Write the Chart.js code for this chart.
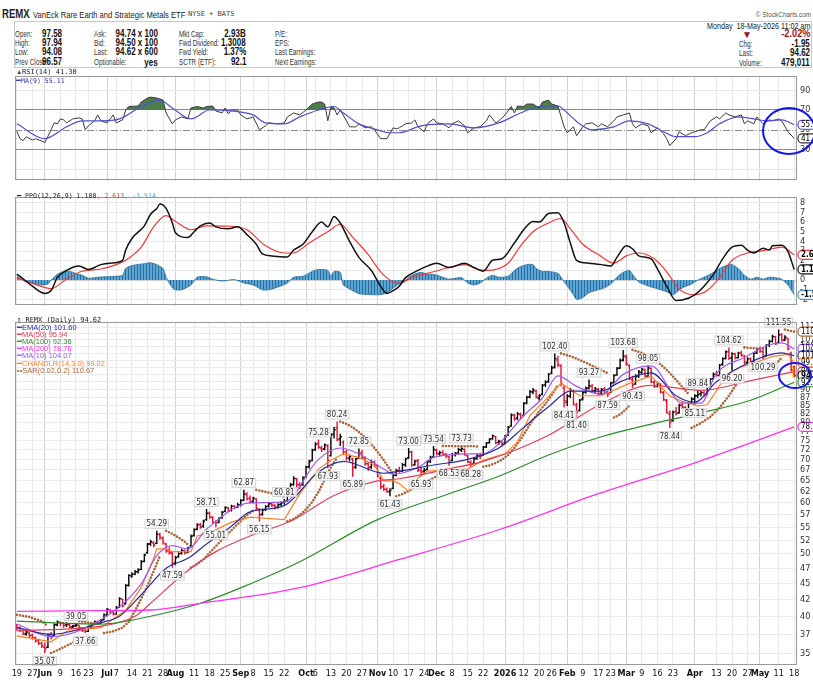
<!DOCTYPE html>
<html><head><meta charset="utf-8">
<script src="https://cdn.jsdelivr.net/npm/chart.js@4.4.1/dist/chart.umd.min.js"></script>
<style>
body{margin:0;width:813px;height:680px;overflow:hidden;background:#fff;position:relative;font-family:'Liberation Sans',Arial,sans-serif;color:#222}
.n{position:absolute;white-space:nowrap;line-height:1;transform:scaleX(.8);transform-origin:0 0}
.nr{transform-origin:100% 0}
.l{font-size:9px;color:#333;transform:scaleX(.7)}
.v{font-size:10px;font-weight:bold;color:#111}
canvas{position:absolute;left:0}
.lg{position:absolute;white-space:nowrap;line-height:1;font-size:7.5px}
.mono{font-family:'DejaVu Sans Mono',monospace}
.ell{position:absolute;border:2px solid #1717e6;border-radius:50%;box-sizing:border-box}
</style></head><body>
<div class="n" style="left:2px;top:8px;font-size:12px;font-weight:bold">REMX</div>
<div class="n" style="left:33px;top:10px;font-size:9.5px">VanEck Rare Earth and Strategic Metals ETF</div>
<div class="n mono" style="left:188px;top:11px;font-size:7px;color:#444;transform:none">NYSE + BATS</div>
<div class="n nr" style="right:2px;top:11px;font-size:8px;color:#555">© StockCharts.com</div>
<div style="position:absolute;left:14px;top:21px;width:798px;height:47px;border:1px solid #c8c8c8;box-sizing:border-box"></div>
<div class="n nr" style="right:3px;top:22px;font-size:9px">Monday&nbsp; 18-May-2026 11:02 am</div>

<div class="n l" style="left:15px;top:30px">Open:</div><div class="n nr v" style="right:751px;top:29px">97.58</div>
<div class="n l" style="left:15px;top:39px">High:</div><div class="n nr v" style="right:751px;top:38px">97.94</div>
<div class="n l" style="left:15px;top:48px">Low:</div><div class="n nr v" style="right:751px;top:47px">94.08</div>
<div class="n l" style="left:15px;top:58px">Prev Close:</div><div class="n nr v" style="right:751px;top:57px">96.57</div>

<div class="n l" style="left:94px;top:30px">Ask:</div><div class="n nr v" style="right:655px;top:29px">94.74 x 100</div>
<div class="n l" style="left:94px;top:39px">Bid:</div><div class="n nr v" style="right:655px;top:38px">94.50 x 100</div>
<div class="n l" style="left:94px;top:48px">Last:</div><div class="n nr v" style="right:655px;top:47px">94.62 x 600</div>
<div class="n l" style="left:94px;top:58px">Optionable:</div><div class="n nr v" style="right:655px;top:58px">yes</div>

<div class="n l" style="left:179px;top:30px">Mkt Cap:</div><div class="n nr v" style="right:567px;top:29px">2.93B</div>
<div class="n l" style="left:179px;top:39px">Fwd Dividend:</div><div class="n nr v" style="right:567px;top:38px">1.3008</div>
<div class="n l" style="left:179px;top:48px">Fwd Yield:</div><div class="n nr v" style="right:567px;top:47px">1.37%</div>
<div class="n l" style="left:179px;top:58px">SCTR (ETF):</div><div class="n nr v" style="right:567px;top:57px">92.1</div>

<div class="n l" style="left:275px;top:30px">P/E:</div>
<div class="n l" style="left:275px;top:39px">EPS:</div>
<div class="n l" style="left:275px;top:48px">Last Earnings:</div>
<div class="n l" style="left:275px;top:58px">Next Earnings:</div>

<div class="n" style="left:742px;top:30px;font-size:10px;color:#9b1426;transform:none">&#9660;</div>
<div class="n nr" style="right:3px;top:28px;font-size:11.5px;font-weight:bold;color:#9b1426">-2.02%</div>
<div class="n l" style="left:739px;top:40px">Chg:</div><div class="n nr v" style="right:3px;top:39px">-1.95</div>
<div class="n l" style="left:739px;top:49px">Last:</div><div class="n nr v" style="right:3px;top:48px">94.62</div>
<div class="n l" style="left:739px;top:59px">Volume:</div><div class="n nr v" style="right:3px;top:58px">479,011</div>

<canvas id="c1" width="813" height="121" style="top:68px;width:813px;height:121px"></canvas>
<canvas id="c2" width="813" height="125" style="top:189px;width:813px;height:125px"></canvas>
<canvas id="c3" width="813" height="366" style="top:314px;width:813px;height:366px"></canvas>

<div class="lg" style="left:16px;top:69px;color:#2d6b2d;font-size:6.5px">&#9650;</div>
<div class="lg mono" style="left:22px;top:69px;color:#222;font-size:7px">RSI(14) 41.30</div>
<div class="lg" style="left:16px;top:77px;color:#3434b0">&#9473;<span class="mono" style="font-size:6.6px">MA(9) 55.11</span></div>
<div class="lg mono" style="left:17px;top:193px;color:#222;font-size:6.6px"><span style="font-family:'Liberation Sans'">&#9473;</span> PPO(12,26,9) 1.100<span style="color:#e83a3a">, 2.613</span><span style="color:#4aa3df">, -1.514</span></div>

<div class="lg mono" style="left:17px;top:317px;color:#222;font-size:7px">&#9647; REMX (Daily) 94.62</div>
<div class="lg" style="left:17px;top:324px;color:#2b2b9c">&#9473;EMA(20) 101.60</div>
<div class="lg" style="left:17px;top:331px;color:#e0405a">&#9473;MA(50) 95.94</div>
<div class="lg" style="left:17px;top:338px;color:#2e8b2e">&#9473;MA(100) 92.36</div>
<div class="lg" style="left:17px;top:345px;color:#ff33ee">&#9473;MA(200) 78.76</div>
<div class="lg" style="left:17px;top:352px;color:#9a5af0">&#9473;MA(10) 104.07</div>
<div class="lg" style="left:17px;top:360px;color:#ff7f27">&#9473;CHANDLR(14,3.0) 99.02</div>
<div class="lg" style="left:17px;top:367px;color:#a8673c">&#9642;&#8226;SAR(0.02,0.2) 110.67</div>

<div class="ell" style="left:762px;top:107px;width:54px;height:48px"></div>
<div class="ell" style="left:778px;top:362px;width:34px;height:27px"></div>

<script>
const F = "'DejaVu Sans Condensed','Liberation Sans',Arial,sans-serif";

// x axis labels (trading-day index, text)
const tickIdx = [0,5,9,14,19,23,29,32,37,42,47,51,57,62,67,72,76,81,86,93,96,101,106,111,116,121,126,131,135,140,145,150,157,163,168,172,177,182,187,191,196,201,206,211,218,225,230,235,239,245,250];
const tickTxt = ['19','27','Jun','9','16','23','Jul','7','14','21','28','Aug','11','18','25','Sep','8','15','22','Oct','6','13','20','27','Nov','10','17','24','Dec','8','15','22','2026','12','20','26','Feb','9','17','23','Mar','9','16','23','Apr','13','20','27','May','11','18'];

// daily OHLC, May 19 2025 .. May 18 2026
const open = [38.6,38.4,38.0,37.5,37.6,37.4,37.0,36.7,36.3,35.8,
35.8,37.5,37.3,38.8,39.1,39.0,38.8,38.8,38.5,38.7,
38.7,38.3,38.0,37.9,38.6,38.9,39.2,39.0,39.5,40.2,
40.9,40.6,40.3,41.3,42.5,41.8,44.7,46.2,46.5,46.9,
47.3,48.7,50.2,51.8,52.0,51.9,53.6,52.9,51.8,50.6,
50.1,48.4,49.5,50.1,50.5,50.3,51.4,53.4,54.6,55.5,
55.2,56.5,57.8,57.0,55.9,56.0,56.9,58.2,58.9,58.4,
59.3,59.1,59.5,60.6,61.8,61.0,60.3,60.8,58.5,57.6,
58.6,59.3,59.8,59.4,59.1,59.7,60.1,60.4,62.4,64.1,
65.4,64.0,64.0,65.8,68.3,69.8,72.6,74.2,73.0,72.8,
73.5,71.0,76.8,78.5,75.5,74.5,72.0,70.4,70.2,68.2,
70.5,71.8,70.4,69.0,68.2,69.4,68.5,65.5,63.6,63.0,
62.4,63.2,66.3,67.4,67.3,68.7,70.5,72.0,68.8,69.8,
67.4,67.2,67.6,69.6,70.7,72.4,71.5,71.8,71.3,70.8,
69.8,71.3,71.7,72.5,72.6,71.0,69.3,69.1,70.3,71.0,
71.2,73.3,74.4,75.5,76.0,74.5,74.7,74.3,76.5,79.0,
82.0,81.2,82.3,82.0,85.8,87.6,89.2,89.5,87.2,88.5,
91.5,92.6,95.5,97.5,100.0,98.0,90.5,86.0,88.0,89.5,
85.0,83.5,87.0,89.2,90.5,91.0,89.6,90.0,88.8,90.2,
88.8,89.0,92.3,94.8,97.2,100.0,101.0,98.0,93.2,91.8,
94.5,95.6,96.5,94.3,97.0,92.3,91.2,91.8,89.0,86.5,
82.5,80.5,83.2,82.8,85.2,84.3,83.8,85.8,87.0,88.0,
88.6,89.0,88.5,91.3,93.5,95.2,94.6,98.5,100.6,103.0,
100.8,102.2,100.8,102.6,101.5,99.2,100.5,99.4,102.5,104.0,
103.0,101.5,105.5,107.0,108.6,106.5,109.4,107.5,108.0,102.5,
97.58];
const high = [38.9,38.6,38.2,38.0,37.9,37.6,37.2,36.9,36.5,36.4,
37.6,37.8,39.0,39.4,39.3,39.2,39.1,38.9,38.8,39.05,
38.8,38.5,38.2,38.7,39.1,39.4,39.4,39.6,40.4,41.2,
41.1,40.8,41.5,42.8,42.6,44.9,46.5,46.8,47.2,47.5,
48.9,50.0,52.0,52.6,52.3,54.29,53.9,53.2,52.0,51.2,
50.4,49.6,50.3,50.9,50.8,51.3,53.6,54.8,55.8,55.9,
56.5,58.71,58.2,57.2,56.4,57.0,58.3,59.3,59.1,59.6,
59.5,60.0,60.8,62.87,62.3,61.6,61.3,61.0,58.9,58.8,
59.5,60.0,60.2,59.8,59.9,60.3,60.81,62.6,64.5,66.0,
65.6,64.6,66.0,68.5,70.0,72.8,74.5,75.28,73.6,74.2,
74.0,77.0,78.8,80.24,76.8,75.0,72.5,71.3,70.5,70.5,
72.85,72.5,70.8,69.5,70.0,69.8,68.7,65.8,64.2,63.4,
63.2,66.5,67.8,68.3,69.2,70.5,73.00,72.3,70.0,70.2,
68.0,68.0,69.8,71.0,73.54,72.8,72.3,72.4,71.8,71.0,
71.8,72.0,73.0,73.73,72.9,71.2,69.8,70.6,71.5,71.8,
73.5,74.6,75.6,76.6,76.2,75.2,75.0,76.5,79.0,82.6,
82.5,83.0,82.8,86.0,88.0,89.8,90.5,89.9,88.5,91.8,
93.0,95.5,98.0,102.40,101.5,98.5,91.5,88.5,90.5,90.0,
85.8,87.0,89.5,91.0,93.27,91.8,90.8,90.5,90.5,90.8,
89.5,92.5,95.0,97.5,100.5,103.68,102.0,98.5,94.5,95.0,
96.5,97.2,97.0,98.05,97.4,93.0,92.5,92.0,89.5,87.0,
83.5,83.5,84.5,85.5,86.2,84.8,86.0,87.5,88.5,89.84,
89.5,89.6,91.5,93.8,95.6,96.2,98.6,101.0,103.5,104.62,
102.8,102.6,103.0,103.4,101.8,101.0,100.9,102.8,104.5,105.0,
103.6,105.8,107.5,109.5,109.0,111.55,110.0,109.3,108.3,103.0,
97.94];
const low = [38.0,37.8,37.4,37.3,37.0,36.8,36.4,36.1,35.7,35.07,
35.7,36.8,37.2,38.6,38.6,38.4,38.5,38.2,38.2,38.5,
38.2,37.8,37.66,37.8,38.4,38.8,38.8,38.9,39.4,40.0,
40.4,40.1,40.2,41.2,41.3,41.7,44.5,45.9,46.3,46.6,
47.2,48.5,50.0,51.4,51.2,51.8,52.6,51.7,50.2,49.9,
47.59,48.0,49.3,49.9,49.9,50.1,51.3,53.2,54.4,54.7,
54.9,56.3,56.7,55.7,55.01,55.8,56.7,58.0,58.0,58.2,
58.7,58.9,59.2,60.4,60.5,59.8,59.9,58.5,56.15,57.3,
58.3,59.0,59.1,58.6,58.8,59.3,59.6,60.2,62.2,63.8,
63.4,63.0,63.8,65.6,67.8,69.6,72.3,72.8,72.0,72.4,
67.93,70.8,75.5,74.8,73.5,71.2,69.8,69.6,65.89,67.8,
70.2,70.2,68.5,67.3,67.8,68.2,65.8,63.0,62.6,62.2,
61.43,63.0,66.0,66.8,67.0,68.3,70.2,68.3,68.5,67.0,
65.93,66.6,67.4,69.2,70.5,71.2,70.8,71.0,70.4,68.53,
69.6,70.8,71.4,72.0,71.0,69.2,68.28,68.9,70.0,70.2,
71.0,73.0,74.2,75.2,74.0,73.8,73.6,74.0,76.2,78.8,
80.5,80.6,80.8,81.8,85.4,87.2,88.5,87.2,86.5,88.2,
90.8,92.2,95.0,97.0,97.5,91.0,84.41,84.8,87.2,85.0,
81.40,83.2,86.5,88.6,90.0,89.0,88.6,88.0,88.2,88.4,
87.59,88.8,92.0,94.5,96.8,99.5,98.0,93.0,90.43,91.5,
93.8,95.2,94.0,94.0,92.0,90.5,90.6,88.8,86.4,82.5,
78.44,80.2,82.0,82.5,84.0,83.0,83.5,85.5,85.11,87.2,
87.8,87.6,88.2,91.0,93.2,94.2,94.4,98.0,100.2,100.0,
96.20,100.2,100.6,101.2,98.5,98.5,98.6,99.0,102.2,102.6,
100.29,101.2,104.8,106.5,105.5,106.2,106.8,107.0,103.5,96.0,
94.08];
const close = [38.4,38.0,37.6,37.8,37.3,37.0,36.6,36.3,36.0,35.6,
37.4,37.1,38.8,39.2,39.0,38.7,38.9,38.5,38.6,38.8,
38.4,38.0,37.9,38.6,38.9,39.2,39.0,39.4,40.2,41.0,
40.6,40.3,41.2,42.6,41.5,44.6,46.3,46.5,46.9,47.2,
48.6,49.8,51.8,52.2,51.6,53.6,53.0,52.0,50.5,50.2,
48.3,49.3,50.0,50.6,50.2,51.0,53.2,54.5,55.5,55.0,
56.2,57.8,57.0,56.0,55.8,56.8,58.0,59.0,58.3,59.3,
59.0,59.6,60.5,62.0,60.9,60.2,61.0,58.8,57.5,58.5,
59.2,59.8,59.5,59.0,59.6,60.0,60.3,62.3,64.0,65.5,
64.0,63.8,65.6,68.2,69.5,72.4,74.0,73.2,72.6,73.8,
69.8,76.5,77.9,75.2,76.0,72.0,70.4,70.8,68.0,70.2,
71.5,70.5,69.0,68.0,69.5,68.8,66.0,63.5,63.0,62.5,
62.8,66.2,67.4,67.2,68.8,70.2,72.0,68.6,69.6,67.5,
67.0,67.4,69.5,70.6,72.6,71.6,71.8,71.4,71.0,69.4,
71.3,71.6,72.6,72.8,71.3,69.5,68.9,70.2,71.0,70.8,
73.2,74.3,75.4,76.3,74.4,74.8,74.0,76.0,78.6,82.2,
81.0,82.5,81.3,85.6,87.5,89.3,89.8,87.6,88.0,91.3,
92.4,95.0,97.2,100.5,98.4,92.0,86.5,87.8,89.8,85.5,
83.0,86.6,89.0,90.3,91.2,89.5,90.2,88.5,90.0,89.0,
88.5,92.0,94.6,97.0,99.8,101.5,98.6,93.6,91.5,94.3,
95.8,96.8,94.5,97.2,92.5,91.0,92.0,89.2,86.8,83.0,
80.0,83.0,82.6,85.0,84.5,83.6,85.6,86.9,88.0,88.4,
89.0,88.2,91.0,93.4,95.0,94.8,98.2,100.4,103.0,100.6,
102.3,100.8,102.5,101.8,99.0,100.4,99.2,102.4,104.0,103.2,
101.2,105.4,106.8,108.8,106.0,109.5,107.2,108.5,104.2,96.57,
94.62];

// labelled highs / lows
const annIdx = [9,19,22,45,50,61,64,73,78,86,97,100,103,108,110,120,126,130,134,139,143,146,173,176,180,184,190,195,198,203,210,218,219,229,230,240,245];
const annVal = [35.07,39.05,37.66,54.29,47.59,58.71,55.01,62.87,56.15,60.81,75.28,67.93,80.24,65.89,72.85,61.43,73.00,65.93,73.54,68.53,73.73,68.28,102.40,84.41,81.40,93.27,87.59,103.68,90.43,98.05,78.44,85.11,89.84,104.62,96.20,100.29,111.55];
const annHi  = [0,1,0,1,0,1,0,1,0,1,1,0,1,0,1,0,1,0,1,0,1,0,1,0,0,1,0,1,0,1,0,0,1,1,0,0,1];

// overlays [dayIndex, value]
const ema20 = [[0,38.4],[11,37.5],[27,39.1],[33,40.0],[40,43.2],[48,47.5],[55,49.2],[61,51.8],[69,55.2],[75,58.1],[86,59.4],[97,67.0],[105,69.6],[118,66.7],[123,67.2],[134,68.7],[145,70.1],[155,73.0],[163,78.6],[171,84.6],[178,89.5],[188,89.5],[194,92.5],[204,95.5],[212,88.0],[218,86.0],[225,92.5],[236,99.3],[246,102.6],[250,101.6]];
const ma10 = [[0,38.9],[11,37.2],[27,39.5],[40,44.9],[45,49.7],[50,51.5],[55,50.9],[61,54.6],[75,60.0],[86,60.2],[97,70.1],[104,73.0],[110,71.5],[118,67.7],[121,66.5],[129,68.1],[134,70.6],[145,71.5],[150,71.5],[155,74.1],[163,82.0],[169,87.3],[174,94.5],[180,91.0],[188,88.5],[195,95.0],[204,97.9],[214,85.7],[220,85.7],[225,95.3],[234,100.9],[242,105.6],[246,106.3],[250,104.07]];
const ma50 = [[0,38.0],[27,38.6],[38,40.0],[43,41.9],[54,46.7],[64,50.4],[75,53.3],[89,56.5],[102,61.6],[116,64.9],[123,65.4],[139,67.8],[150,69.6],[171,76.4],[188,85.5],[204,91.3],[220,89.7],[236,92.9],[250,95.94]];
const ma100 = [[0,39.3],[27,38.9],[43,40.0],[59,41.9],[75,44.9],[91,48.6],[116,56.5],[139,62.0],[155,66.0],[171,71.2],[188,76.0],[204,79.5],[220,82.8],[236,86.6],[250,92.36]];
const ma200 = [[0,40.7],[27,40.8],[43,40.9],[59,41.9],[91,44.3],[123,49.0],[155,54.5],[187,62.0],[219,69.5],[250,78.76]];
const chand = [[0,37.3],[11,36.5],[16,37.9],[27,38.4],[31,39.6],[35,40.9],[40,44.3],[44,49.2],[45,50.9],[48,50.9],[50,50.4],[56,50.4],[58,53.3],[62,53.9],[69,56],[75,57],[86,56.5],[91,62],[97,67.7],[101,69.9],[105,71.5],[110,70.6],[115,68.7],[118,64.9],[121,64.9],[123,64.3],[126,62.5],[129,65.6],[132,67.2],[145,67.7],[150,69.9],[157,71.5],[161,74.6],[165,82],[169,85.7],[175,92],[181,88],[188,88],[197,92],[204,94.5],[207,91],[210,87.9],[214,86.3],[219,84.9],[222,85.2],[224,88.1],[226,91.3],[229,95.3],[233,97.6],[238,99.3],[243,101.3],[248,102],[250,99.02]];
const sar = [[0,40.2],[4,39.9],[8,39.3],[10,38.6],[10.5,null],
[11,35.07],[14,35.6],[17,36.2],[19,36.6],[19.5,null],
[20,39.3],[23,39.1],[26,38.9],[27.5,null],
[28,37.66],[31,37.9],[34,38.4],[36,39.2],[38,40.8],[40,42.6],[42,44.6],[44,47.0],[46,49.6],[47.5,null],
[48,54.29],[50,53.7],[52,53.0],[54,52.2],[55,51.7],[55.5,null],
[56,47.59],[58,48.2],[60,49.0],[62,50.2],[64,51.4],[66,52.6],[68,53.8],[70,55.0],[72,56.2],[74,57.4],[76,58.4],[76.5,null],
[77,62.87],[80,62.4],[83,61.9],[86,61.3],[86.5,null],
[87,56.15],[89,56.6],[91,57.5],[93,58.6],[95,60.2],[97,62.4],[99,65.2],[101,68.2],[103,70.5],[103.5,null],
[104,80.24],[106,79.6],[108,78.6],[110,77.3],[112,75.8],[114,74.0],[116,72.0],[118,69.9],[120,67.6],[121,66.6],[121.5,null],
[122,61.43],[124,61.9],[126,62.6],[128,63.4],[130,64.1],[132,64.8],[134,65.6],[136,66.5],[136.5,null],
[137,73.54],[140,73.5],[143,73.4],[146,73.5],[148,73.4],[149.5,null],
[150,68.28],[152,68.6],[154,69.2],[156,70.0],[158,71.2],[160,73.0],[162,75.3],[164,78.0],[166,80.8],[168,83.2],[170,85.5],[172,88.2],[174,91.5],[174.5,null],
[175,102.4],[178,101.4],[181,100.0],[184,98.5],[187,97.0],[190,95.4],[191.5,null],
[192,81.4],[194,82.3],[196,84.0],[197,85.0],[197.5,null],
[198,103.68],[201,102.6],[204,100.8],[207,98.5],[210,95.5],[213,92.0],[216,88.5],[216.5,null],
[217,78.44],[220,79.8],[223,81.6],[226,84.3],[229,88.0],[231,91.0],[233,94.0],[233.5,null],
[234,104.62],[236,104.4],[238,104.2],[240,104.0],[240.5,null],
[241,96.2],[243,97.6],[245,99.6],[246,100.8],[246.5,null],
[247,111.55],[248,111.2],[249,110.9],[250,110.67]];

// RSI(14) and MA(9)
const rsi = [[0,48.5],[1,41],[2,39],[3,43],[5,39.6],[6,41],[8,38.7],[9,37],[11,50],[12,57],[13,56],[14,61],[15,60],[16,57],[18,61],[20,62],[21,61],[22,50],[23,54],[25,59],[26,65],[27,59],[29,57],[30,61],[31,65],[32,57],[34,60],[35,70],[36,73.5],[39,74],[40,78],[42,82],[43,83],[45,82],[47,80],[48,67],[50,56],[51,60],[53,63],[55,61],[56,72],[58,73.5],[60,72],[61,73.5],[63,74],[64,69],[66,67],[67,72],[68,66],[69,70],[71,70],[72,65],[74,61],[76,63],[78,50],[80,54],[81,57],[84,56],[86,57],[87,63],[89,67],[91,65],[93,70],[95,76],[97,78],[98,78],[99,76],[100,59],[101,73.5],[102,72],[103,65],[104,70],[106,59],[107,53],[109,53],[110,56],[112,52],[114,53],[115,50],[117,41],[119,41],[121,52],[122,51],[123,52],[125,56],[127,57],[128,60],[129,53],[131,48],[132,56],[134,61],[135,57],[137,56],[139,52],[140,56],[142,59],[144,54],[145,47],[147,52],[149,53],[151,59],[152,65],[154,57],[155,59],[157,65],[159,73.5],[160,67],[161,74],[163,73.5],[164,76],[166,76],[168,72],[169,78],[171,80],[172,76],[174,74],[176,53],[177,47],[179,53],[180,44],[182,53],[183,56],[185,57],[187,53],[188,56],[190,53],[192,59],[193,63],[195,65],[197,67],[198,56],[199,52],[201,56],[203,54],[204,47],[206,52],[208,46],[209,41],[210,34],[212,41],[213,48],[215,44],[217,47],[218,48],[220,50],[221,50],[223,59],[225,63],[226,61],[228,67],[229,65],[231,63],[233,65],[234,56],[235,59],[237,56],[238,63],[240,56],[242,60],[243,59],[245,61],[246,59],[248,48],[250,41.3]];
const rsiMa = [[0,56],[9,41],[16,53],[21,59],[27,59],[33,61],[40,73.5],[46,80],[50,72],[56,61],[62,70],[69,69],[76,65],[80,57],[86,56],[91,63],[97,70],[102,73.5],[105,67],[110,56],[116,50],[120,47],[123,47],[130,54],[139,56],[147,52],[155,57],[162,67],[168,73.5],[174,74],[177,67],[181,56],[185,50],[192,53],[197,59],[203,56],[208,48],[212,43],[218,43],[222,47],[226,56],[232,63],[237,61],[241,59],[246,60],[250,55.11]];

// PPO(12,26,9)
const ppo = [[0,0.62],[2,0.14],[5,-0.63],[9,-1.37],[11,-1.08],[13,0.26],[16,1.0],[20,1.45],[23,1.1],[27,1.6],[30,1.75],[34,2.05],[35,3.1],[37,4.3],[41,5.6],[43,6.8],[45,7.4],[46,7.85],[48,7.4],[50,5.9],[51,4.9],[55,4.4],[57,5.0],[59,5.6],[62,5.9],[64,5.5],[68,5.3],[71,5.5],[74,4.7],[77,3.7],[79,2.7],[82,2.5],[87,2.4],[89,3.1],[92,3.7],[95,5.0],[98,6.0],[100,5.5],[102,6.57],[104,5.9],[107,4.0],[110,2.35],[114,1.0],[117,-0.63],[119,-1.37],[121,-1.08],[123,-0.63],[125,0.26],[129,1.0],[132,1.45],[135,1.75],[139,1.3],[144,1.75],[147,1.3],[150,0.92],[153,2.05],[156,2.2],[160,3.83],[163,5.2],[166,6.06],[168,6.0],[171,6.87],[174,6.96],[176,5.9],[178,3.83],[180,2.05],[184,1.75],[188,1.6],[191,1.45],[193,2.35],[196,3.54],[198,3.24],[200,2.5],[204,2.2],[206,1.15],[209,-0.63],[212,-2.1],[214,-2.06],[218,-1.52],[221,-0.63],[224,0.56],[227,2.2],[230,3.4],[233,3.6],[235,3.1],[237,2.8],[240,3.3],[242,3.1],[243,3.54],[246,3.6],[248,2.94],[250,1.1]];
const ppoSig = [[0,0.26],[5,-0.33],[11,-0.87],[16,0.12],[21,0.92],[27,1.15],[32,1.6],[35,2.05],[40,3.4],[44,5.5],[48,6.66],[51,6.06],[56,5.2],[61,5.6],[69,5.56],[74,5.2],[80,3.54],[86,2.8],[89,2.8],[94,3.83],[100,5.0],[104,5.77],[108,4.43],[113,2.64],[117,0.86],[121,-0.19],[123,-0.33],[127,0.26],[134,0.86],[139,1.3],[144,1.6],[148,1.15],[151,1.0],[158,1.75],[162,3.54],[166,5.0],[171,5.9],[175,6.36],[178,5.3],[182,3.7],[187,2.64],[192,1.75],[196,2.5],[200,2.8],[205,2.2],[209,0.86],[213,-0.93],[218,-1.52],[222,-1.08],[226,0.26],[230,2.05],[235,2.8],[239,3.0],[243,3.24],[246,3.4],[250,2.613]];
const ppoHist = [[0,0.4],[3,-0.2],[5,-0.3],[8,-0.5],[10,-0.4],[11,0],[13,0.6],[15,0.9],[17,0.9],[19,0.7],[21,0.5],[23,0.2],[26,0.3],[29,0.35],[32,0.4],[34,0.5],[35,1.2],[37,1.5],[41,1.7],[43,1.8],[45,1.6],[47,1.2],[48,0.3],[50,-0.8],[51,-1.0],[53,-1.0],[56,-0.5],[58,0.3],[61,0.35],[63,0.1],[66,-0.1],[70,0.05],[73,-0.3],[76,-0.5],[79,-1.0],[81,-1.0],[85,-0.6],[87,-0.3],[89,0.3],[92,0.4],[95,0.9],[97,1.1],[100,1.0],[101,0.4],[102,0.9],[104,0.8],[105,-0.5],[107,-0.9],[110,-1.4],[114,-1.5],[117,-1.5],[119,-1.3],[122,-0.6],[125,0.0],[127,0.5],[130,0.8],[132,0.6],[134,0.6],[137,0.3],[139,0.1],[143,0.25],[145,-0.3],[147,-0.5],[149,-0.3],[151,0.2],[153,0.5],[155,0.3],[158,0.4],[160,1.0],[162,1.4],[164,1.6],[166,1.6],[167,1.2],[169,0.9],[171,0.9],[174,0.7],[175,0.3],[177,-0.6],[179,-1.5],[180,-2.0],[182,-1.8],[184,-1.3],[187,-1.0],[189,-0.8],[191,-0.4],[193,0.3],[195,0.8],[197,1.0],[198,0.6],[200,-0.2],[203,-0.6],[205,-0.8],[207,-1.0],[209,-1.2],[211,-1.5],[212,-1.3],[214,-0.8],[217,-0.4],[219,0.0],[221,0.3],[223,0.6],[225,1.0],[228,1.5],[230,1.6],[232,1.2],[234,0.5],[236,0.1],[238,0.3],[240,0.1],[242,0.3],[245,0.2],[246,0.1],[248,-0.5],[249,-1.0],[250,-1.514]];

// right-edge value tags [value, colour, text, bold]
const tagsMain = [[110.67,'#a8673c','110.67',0],[104.07,'#9a5af0','104.07',0],[101.60,'#2b2b9c','101.60',0],[99.02,'#ff7f27','99.02',0],[95.94,'#e0405a','95.94',0],[94.62,'#000','94.62',1],[92.36,'#2e8b2e','92.36',0],[78.76,'#ff33ee','78.76',0]];
const tagsRsi = [[55.11,'#4b4bd0','55.1',0],[41.30,'#333','41.3',0]];
const tagsPpo = [[2.613,'#f03a3a','2.6',1],[1.100,'#111','1.1',1],[-1.514,'#4a98c8','-1.5',1]];

const mainTicks = [35,37.5,40,42.5,45,47.5,50,52.5,55,57.5,60,62.5,65,67.5,70,72.5,75,77.5,80,82.5,85,87.5,90,92.5,95,97.5,100,102.5,105,107.5,110,112.5];
const rsiTicks = [10,30,50,70,90];
const ppoTicks = [-2,-1,0,1,2,3,4,5,6,7,8];

const P = a => a.map(([x,y]) => ({x, y}));
const isBold = i => i != null && tickTxt[i] && tickTxt[i].length > 2;

function mkX(show){
  return {type:'linear', min:-0.6, max:250.9,
    afterBuildTicks: s => { s.ticks = tickIdx.map(v => ({value:v})); },
    afterFit: s => { s.height = show ? 15 : 0; },
    border:{display:false},
    grid:{drawTicks:false, color: c => isBold(c.index) ? '#d2d2d2' : '#e8e8e8'},
    ticks:{display:show, autoSkip:false, maxRotation:0, padding:3, color:'#111',
      font: c => ({family:F, size:9, weight: isBold(c.index) ? 'bold' : 'normal'}),
      callback: (v, i) => tickTxt[i]}};
}
function mkY(type, min, max, ticks, lab, gcol){
  return {type, position:'right', min, max,
    afterBuildTicks: s => { s.ticks = ticks.map(v => ({value:v})); },
    afterFit: s => { s.width = 16; },
    border:{display:false},
    grid:{drawTicks:false, color: gcol},
    ticks:{autoSkip:false, padding:3, color:'#333', font:{family:F, size:9}, callback: lab}};
}
function ln(data, color, w, extra){
  return Object.assign({type:'line', data:P(data), borderColor:color, borderWidth:w, pointRadius:0, fill:false, cubicInterpolationMode:'monotone', spanGaps:false, order:0}, extra || {});
}

const frame = {id:'frame', afterDatasetsDraw(ch){
  const a = ch.chartArea, c = ch.ctx; c.save(); c.strokeStyle = '#9a9a9a'; c.lineWidth = 1;
  c.strokeRect(Math.round(a.left)+0.5, Math.round(a.top)+0.5, Math.round(a.right-a.left)-1, Math.round(a.bottom-a.top)-1); c.restore();
}};
const tags = {id:'tags', afterDraw(ch, args, opts){
  const c = ch.ctx, y = ch.scales.y, x0 = ch.chartArea.right + 1; c.save();
  (opts.items || []).forEach(([v, col, txt, b]) => {
    const yy = y.getPixelForValue(v);
    c.beginPath(); c.roundRect(x0, yy-4.5, 24, 9, 4); c.fillStyle = '#fff'; c.fill();
    c.strokeStyle = col; c.lineWidth = 1.2; c.stroke();
    c.fillStyle = '#000'; c.font = (b ? 'bold ' : '') + '8px ' + F; c.textBaseline = 'middle'; c.fillText(txt, x0+3, yy+0.5);
  });
  c.restore();
}};
const midLine = {id:'midLine', beforeDatasetsDraw(ch){
  const c = ch.ctx, a = ch.chartArea, y = Math.round(ch.scales.y.getPixelForValue(50))+0.5;
  c.save(); c.strokeStyle = '#8a8a8a'; c.lineWidth = 1; c.setLineDash([7,2,1,2]);
  c.beginPath(); c.moveTo(a.left, y); c.lineTo(a.right, y); c.stroke(); c.restore();
}};
const ohlc = {id:'ohlc', beforeDatasetsDraw(ch){
  const c = ch.ctx, xs = ch.scales.x, ys = ch.scales.y, n = close.length - 1; c.save();
  const xl = xs.getPixelForValue(n), yh = ys.getPixelForValue(high[n]), yl = ys.getPixelForValue(low[n]);
  c.fillStyle = '#ffff30'; c.fillRect(xl-2.5, yh-1, 5, yl-yh+2);
  c.lineWidth = 1.4;
  for (let i = 0; i <= n; i++){
    const px = xs.getPixelForValue(i);
    const up = i === 0 ? close[i] >= open[i] : close[i] >= close[i-1];
    c.strokeStyle = up ? '#000' : '#e8102f';
    const a = ys.getPixelForValue(high[i]), b = ys.getPixelForValue(low[i]), o = ys.getPixelForValue(open[i]), cl = ys.getPixelForValue(close[i]);
    c.beginPath(); c.moveTo(px, a); c.lineTo(px, b); c.moveTo(px-1.7, o); c.lineTo(px, o); c.moveTo(px, cl); c.lineTo(px+1.7, cl); c.stroke();
  }
  c.restore();
}};
const ann = {id:'ann', afterDatasetsDraw(ch){
  const c = ch.ctx, xs = ch.scales.x, ys = ch.scales.y; c.save();
  c.font = '8px ' + F; c.textAlign = 'center'; c.textBaseline = 'middle';
  annIdx.forEach((ix, k) => {
    const txt = annVal[k].toFixed(2), w = c.measureText(txt).width + 4;
    const px = xs.getPixelForValue(ix), py = ys.getPixelForValue(annVal[k]) + (annHi[k] ? -7 : 8);
    c.fillStyle = 'rgba(246,246,246,0.92)'; c.strokeStyle = '#d4d4d4'; c.lineWidth = 1;
    c.fillRect(px-w/2, py-4.5, w, 9); c.strokeRect(px-w/2+0.5, py-4.5, w-1, 9);
    c.fillStyle = '#333'; c.fillText(txt, px, py+0.5);
  });
  c.restore();
}};

const base = (scales, plug) => ({responsive:false, animation:false, devicePixelRatio:1,
  layout:{padding:{left:15, right:0, top:0, bottom:0}},
  plugins:Object.assign({legend:{display:false}, tooltip:{enabled:false}}, plug),
  scales});

// RSI panel
new Chart(document.getElementById('c1'), {
  type:'line',
  data:{datasets:[
    ln(rsiMa, '#5050cc', 1.2, {order:0}),
    ln(rsi, '#3a3a3a', 1, {order:1, cubicInterpolationMode:'default', tension:0,
      fill:{target:{value:70}, above:'#4d7d4d', below:'rgba(0,0,0,0)'}})
  ]},
  options: base({x:mkX(false), y:mkY('linear', -1.3, 103.9, rsiTicks, v => v === 10 ? '' : v,
     c => (c.tick && (c.tick.value === 70 || c.tick.value === 30)) ? '#8a8a8a' : (c.tick && c.tick.value === 50 ? 'rgba(0,0,0,0)' : '#e8e8e8'))},
     {tags:{items:tagsRsi}}),
  plugins:[midLine, frame, tags]
});

// PPO panel
const c2 = document.getElementById('c2');
const pc = document.createElement('canvas'); pc.width = 3; pc.height = 4;
const pg = pc.getContext('2d'); pg.fillStyle = '#5aa6d6'; pg.fillRect(0,0,3,4); pg.fillStyle = '#2d6e9b'; pg.fillRect(2,0,1,4);
const pat = c2.getContext('2d').createPattern(pc, 'repeat');
new Chart(c2, {
  type:'line',
  data:{datasets:[
    ln(ppo, '#111', 1.5, {order:0}),
    ln(ppoSig, '#f03a3a', 1.2, {order:1}),
    ln(ppoHist, '#2d6e9b', 0.8, {order:2, cubicInterpolationMode:'default', tension:0.25, fill:'origin', backgroundColor:pat})
  ]},
  options: base({x:mkX(false), y:mkY('linear', -2.63, 8.54, ppoTicks, v => v, c => (c.tick && c.tick.value === 0) ? '#cfcfcf' : '#e8e8e8')},
     {tags:{items:tagsPpo}}),
  plugins:[frame, tags]
});

// Price panel
const o3 = base({x:mkX(true), y:mkY('logarithmic', 33.6, 114.4, mainTicks, v => String(Math.floor(v)), () => '#ebebeb')},
   {tags:{items:tagsMain}});
o3.layout.padding.top = 4;
new Chart(document.getElementById('c3'), {
  type:'line',
  data:{datasets:[
    ln(ma200, '#ff33ee', 1.3),
    ln(ma100, '#2e8b2e', 1.2),
    ln(ma50, '#e0405a', 1.2),
    ln(ema20, '#2b2b9c', 1.2),
    ln(ma10, '#9a5af0', 1.2),
    ln(chand, '#ff7f27', 1.2, {cubicInterpolationMode:'default', tension:0}),
    ln(sar, '#a8673c', 2.6, {cubicInterpolationMode:'default', tension:0, borderDash:[0, 3.1], borderCapStyle:'round'})
  ]},
  options: o3,
  plugins:[ohlc, ann, frame, tags]
});
</script>
</body></html>
